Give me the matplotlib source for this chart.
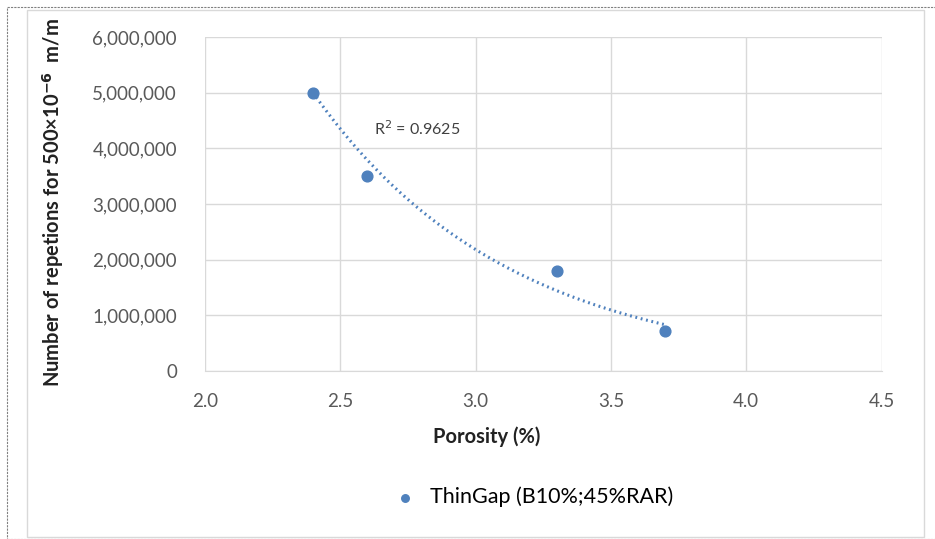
import matplotlib.pyplot as plt
import numpy as np
from matplotlib.patches import Rectangle
from matplotlib.ticker import FuncFormatter

porosity = [2.4, 2.6, 3.3, 3.7]
repetitions = [5000000, 3500000, 1800000, 720000]
series_label = "ThinGap (B10%;45%RAR)"
r2_text = "R$^2$ = 0.9625"

plt.rcParams['font.family'] = ['Lato', 'DejaVu Sans']

fig = plt.figure(figsize=(9.35, 5.39), dpi=100)
ax = fig.add_axes([0.219, 0.312, 0.724, 0.619])

# outer frames
fig.patches.append(Rectangle((7 / 935, 0.0), 1.2, 1 - 7 / 539, transform=fig.transFigure,
                             fill=False, ec='#808080', lw=0.8, ls=(0, (2, 1))))
fig.patches.append(Rectangle((27 / 935, 2 / 539), 897 / 935, 527 / 539, transform=fig.transFigure,
                             fill=False, ec='#d9d9d9', lw=1.0))

blue = '#4f81bd'
ax.scatter(porosity, repetitions, s=60, color=blue, zorder=3, label=series_label)

# exponential trend line
b, a = np.polyfit(porosity, np.log(repetitions), 1)
xs = np.linspace(min(porosity), max(porosity), 200)
ax.plot(xs, np.exp(a + b * xs), color=blue, lw=2.2, ls=(0, (0.6, 1.2)), zorder=2)

ax.text(2.625, 4.36e6, r2_text, fontsize=11.5, color='#404040', va='center')

ax.set_xlim(2.0, 4.5)
ax.set_ylim(0, 6000000)
ax.set_xticks(np.arange(2.0, 4.51, 0.5))
ax.set_yticks(np.arange(0, 6000001, 1000000))
ax.xaxis.set_major_formatter(FuncFormatter(lambda v, p: f"{v:.1f}"))
ax.yaxis.set_major_formatter(FuncFormatter(lambda v, p: f"{int(v):,}"))
ax.tick_params(length=0, labelsize=13.5, labelcolor='#595959')
ax.tick_params(axis='x', pad=16)
ax.tick_params(axis='y', pad=20)
ax.grid(True, color='#d9d9d9', lw=1)
ax.set_axisbelow(True)
for side in ['top', 'right', 'left']:
    ax.spines[side].set_visible(False)
ax.spines['bottom'].set_color('#d9d9d9')

ax.set_xlabel("Porosity (%)", fontsize=14.5, fontweight='bold', color='#222222')
ax.set_ylabel(r"Number of repetions for 500×10$^{\mathbf{-6}}$  m/m", fontsize=14.5,
              fontweight='bold', color='#222222')
ax.xaxis.set_label_coords(0.416, -0.168)
ax.yaxis.set_label_coords(-0.205, 0.506)

fig.legend(loc='center', bbox_to_anchor=(0.565, 1 - 497 / 539), frameon=False, fontsize=15.5,
           handletextpad=0.15, markerscale=0.7)

fig.savefig('out.png', dpi=100)
